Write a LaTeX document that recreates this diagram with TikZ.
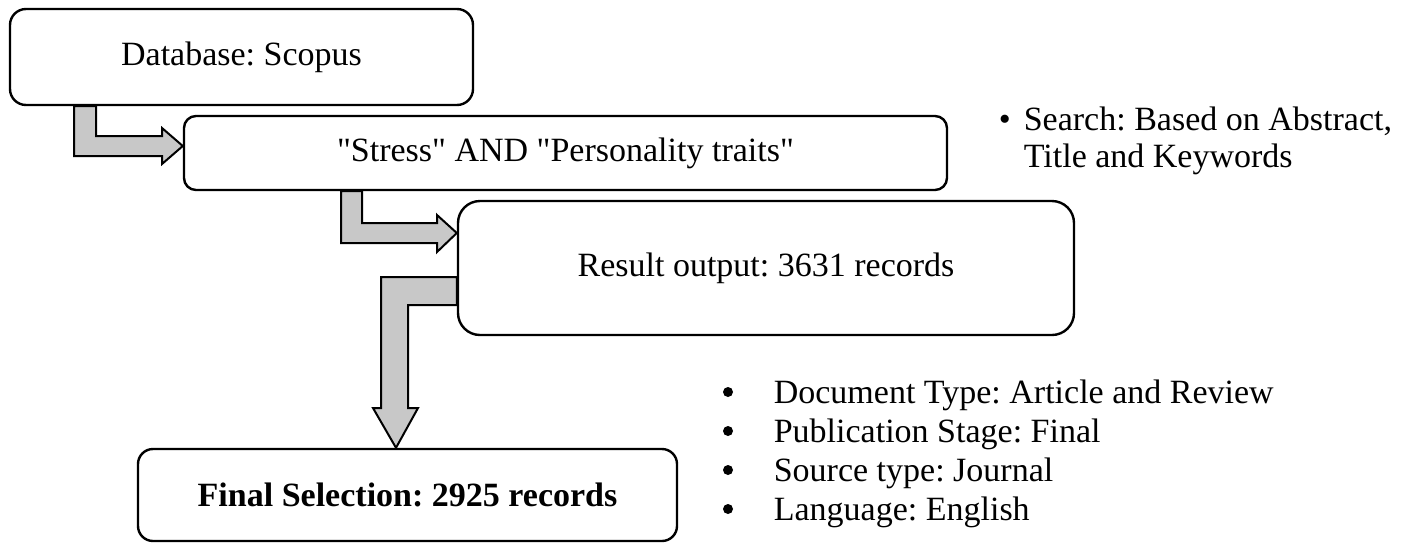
\documentclass[tikz,border=0pt]{standalone}
\usepackage{fontspec}
\setmainfont{Liberation Serif}
\definecolor{arrowgray}{RGB}{200,200,200}
\frenchspacing
\begin{document}
\begin{tikzpicture}[x=0.5pt, y=-0.5pt, line join=round, thick, font=\fontsize{17}{18.5}\selectfont]
	\tikzset{
		flowbox/.style={draw, fill=white, rounded corners=#1, line width=1.2pt, inner sep=0pt, align=center},
		boxsize/.style 2 args={minimum width=#1*0.5pt, minimum height=#2*0.5pt},
		fatarrow/.style={draw, fill=arrowgray, line width=1pt, line join=miter},
		dot/.style={circle, fill, inner sep=0pt, minimum size=5pt},
		plain/.style={anchor=base west, inner sep=0pt, align=left}
	}
	\useasboundingbox (0,0) rectangle (1408,542);
	\node[flowbox=8pt, boxsize={463}{96}] (db) at (241.5,57) {Database: Scopus};
	\node[flowbox=6pt, boxsize={763}{74}] (query) at (565.5,153) {\textquotedbl Stress\textquotedbl{} AND \textquotedbl Personality traits\textquotedbl};
	\node[flowbox=11pt, boxsize={616}{134}] (result) at (766,268) {Result output: 3631 records};
	\node[flowbox=7.5pt, boxsize={539}{92}] (final) at (407.5,495) {\textbf{Final Selection: 2925 records}};
	\draw[fatarrow] (74,0 |- db.south) -- (74,156) -- (162,156) -- (162,164) -- (query.west |- 0,146) -- (162,128) -- (162,136) -- (96,136) -- (96,0 |- db.south) -- cycle;
	\draw[fatarrow] (341,0 |- query.south) -- (341,243) -- (437,243) -- (437,252) -- (result.west |- 0,233) -- (437,215) -- (437,223) -- (362,223) -- (362,0 |- query.south) -- cycle;
	\draw[fatarrow] (result.west |- 0,277) -- (381,277) -- (381,408) -- (373,408) -- (396,0 |- final.north) -- (418,408) -- (408,408) -- (408,305) -- (result.west |- 0,305) -- cycle;
	\node[plain] (bul) at (998,130) {\textbullet};
	\node[plain] (search) at (1023,167) {Search: Based on Abstract,\\Title and Keywords};
	\foreach \crit [count=\i] in {Document Type: Article and Review, Publication Stage: Final, Source type: Journal, Language: English}{
		\node[dot] (dot\i) at (728,{392+39*(\i-1)}) {};
		\node[plain] (crit\i) at (773,{403+39*(\i-1)}) {\crit};
	}
\end{tikzpicture}
\end{document}
